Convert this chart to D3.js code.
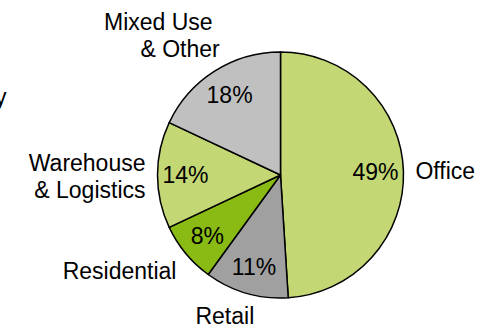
<!DOCTYPE html>
<html>
<head>
<meta charset="utf-8">
<script src="https://cdn.jsdelivr.net/npm/d3@7"></script>
<style>
  html, body { margin: 0; padding: 0; background: #fff; }
  svg { display: block; }
  text { font-family: Arial, "Liberation Sans", sans-serif; fill: #000; }
</style>
</head>
<body>
<svg id="chart" width="499" height="326"></svg>
<script>
// Portfolio split by property type (share of total, %)
const categories = ["Office", "Retail", "Residential", "Warehouse & Logistics", "Mixed Use & Other"];
const shares = [49, 11, 8, 14, 18];
const labelLines = [["Office"], ["Retail"], ["Residential"], ["Warehouse", "& Logistics"], ["Mixed Use", "& Other"]];
const colors = ["#c3d874", "#a0a0a0", "#8abb14", "#c3d874", "#c0c0c0"];

// Placement of the category names around the pie
const labelAnchor = ["start", "middle", "end", "end", "end"];
const labelNudge = [[0, 0], [-18, 11], [0, 10], [0, 1], [11.5, -26]];
const lineShift = [[0], [0], [0], [0, 0], [-7, 0]];

const W = 499, H = 326;
const cx = 280.5, cy = 175, R = 123;
const fontSize = 23, lineH = 27.3;

const svg = d3.select("#chart");
const g = svg.append("g").attr("transform", `translate(${cx},${cy})`);

const data = categories.map((c, i) => ({ name: c, value: shares[i], i }));
const pie = d3.pie().value(d => d.value).sort(null);
const arcs = pie(data);

const arc = d3.arc().innerRadius(0).outerRadius(R);
const pctArc = d3.arc().innerRadius(95).outerRadius(95);
const outArc = d3.arc().innerRadius(135).outerRadius(135);

g.selectAll("path.slice")
  .data(arcs)
  .join("path")
  .attr("class", "slice")
  .attr("d", arc)
  .attr("fill", d => colors[d.data.i])
  .attr("stroke", "#000")
  .attr("stroke-width", 1.5)
  .attr("stroke-linejoin", "round");

// percentage labels inside the slices
g.selectAll("text.pct")
  .data(arcs)
  .join("text")
  .attr("class", "pct")
  .attr("x", d => pctArc.centroid(d)[0])
  .attr("y", d => pctArc.centroid(d)[1])
  .attr("dy", "0.36em")
  .attr("text-anchor", "middle")
  .attr("font-size", fontSize)
  .text(d => d.data.value + "%");

// category names outside the pie
arcs.forEach(d => {
  const i = d.data.i;
  const [px, py] = outArc.centroid(d);
  const lines = labelLines[i];
  const x = px + labelNudge[i][0];
  const yc = py + labelNudge[i][1];
  const t = g.append("text")
    .attr("text-anchor", labelAnchor[i])
    .attr("font-size", fontSize);
  lines.forEach((ln, k) => {
    t.append("tspan")
      .attr("x", x + lineShift[i][k])
      .attr("y", yc + (k - (lines.length - 1) / 2) * lineH)
      .attr("dy", "0.36em")
      .text(ln);
  });
});

// trailing character of a caption running off the left edge
svg.append("text")
  .attr("x", 6.5)
  .attr("y", 105)
  .attr("text-anchor", "end")
  .attr("font-size", fontSize)
  .text("y");
</script>
</body>
</html>
